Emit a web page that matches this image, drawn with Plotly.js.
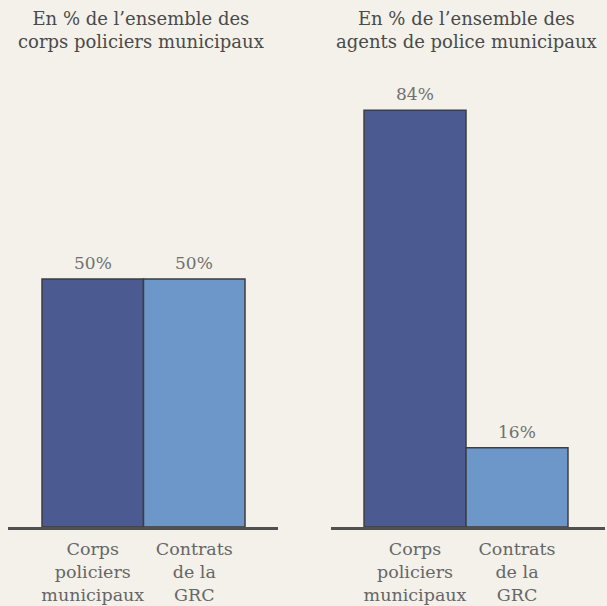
<!DOCTYPE html>
<html><head><meta charset="utf-8">
<script src="https://cdn.plot.ly/plotly-3.0.1.min.js"></script>
<style>html,body{margin:0;padding:0;background:#f3f1ea;}</style>
</head><body>
<div id="chart" style="width:607px;height:606px;"></div>
<script>
const categories = ["Corps<br>policiers<br>municipaux", "Contrats<br>de la<br>GRC"];
const corpsValues = [50, 50];
const agentsValues = [84, 16];
const panelTitles = ["En % de l’ensemble des<br>corps policiers municipaux", "En % de l’ensemble des<br>agents de police municipaux"];
const barColors = ["#4b5b91", "#6e97c9"];

const serif = "DejaVu Serif";

function barTrace(vals, xa, ya) {
  return {
    type: "bar", x: categories, y: vals, xaxis: xa, yaxis: ya,
    width: 1,
    marker: {color: barColors, line: {color: "#3e3e3e", width: 1.5}},
    hoverinfo: "skip", showlegend: false
  };
}

const data = [barTrace(corpsValues, "x", "y"), barTrace(agentsValues, "x2", "y2")];

function valueLabels(vals, xa, ya) {
  return vals.map((v, i) => ({
    text: v + "%", x: categories[i], y: v, xref: xa, yref: ya,
    xanchor: "center", yanchor: "bottom", yshift: 4, showarrow: false,
    font: {family: serif, size: 17, color: "#707070"}
  }));
}

const yDom = [(606 - 527) / 606, (606 - 31) / 606];
function xaxis(dom, rng, anchor) {
  return {domain: dom, range: rng, type: "category", anchor: anchor,
    showgrid: false, zeroline: false,
    showline: true, linecolor: "#505050", linewidth: 3, ticks: "",
    ticklabelstandoff: 4,
    tickfont: {family: serif, size: 17.5, color: "#666"}, fixedrange: true};
}
function yaxis(anchor) {
  return {domain: yDom, range: [0, 100], visible: false, anchor: anchor, fixedrange: true};
}

const layout = {
  width: 607, height: 606,
  font: {family: serif},
  margin: {l: 0, r: 0, t: 0, b: 0},
  paper_bgcolor: "#f3f1ea", plot_bgcolor: "#f3f1ea",
  bargap: 0,
  xaxis: xaxis([8 / 607, 278 / 607], [-0.835, 1.825], "y"),
  xaxis2: xaxis([331 / 607, 605 / 607], [-0.824, 1.863], "y2"),
  yaxis: yaxis("x"),
  yaxis2: yaxis("x2"),
  annotations: [
    {text: panelTitles[0], x: 141 / 607, y: 1 - 6 / 606, xref: "paper", yref: "paper",
     xanchor: "center", yanchor: "top", showarrow: false,
     font: {family: serif, size: 18, color: "#4a4a4a"}},
    {text: panelTitles[1], x: 467 / 607, y: 1 - 6 / 606, xref: "paper", yref: "paper",
     xanchor: "center", yanchor: "top", showarrow: false,
     font: {family: serif, size: 18, color: "#4a4a4a"}}
  ].concat(valueLabels(corpsValues, "x", "y"), valueLabels(agentsValues, "x2", "y2"))
};

Plotly.newPlot("chart", data, layout, {displayModeBar: false, staticPlot: true});
</script>
</body></html>
